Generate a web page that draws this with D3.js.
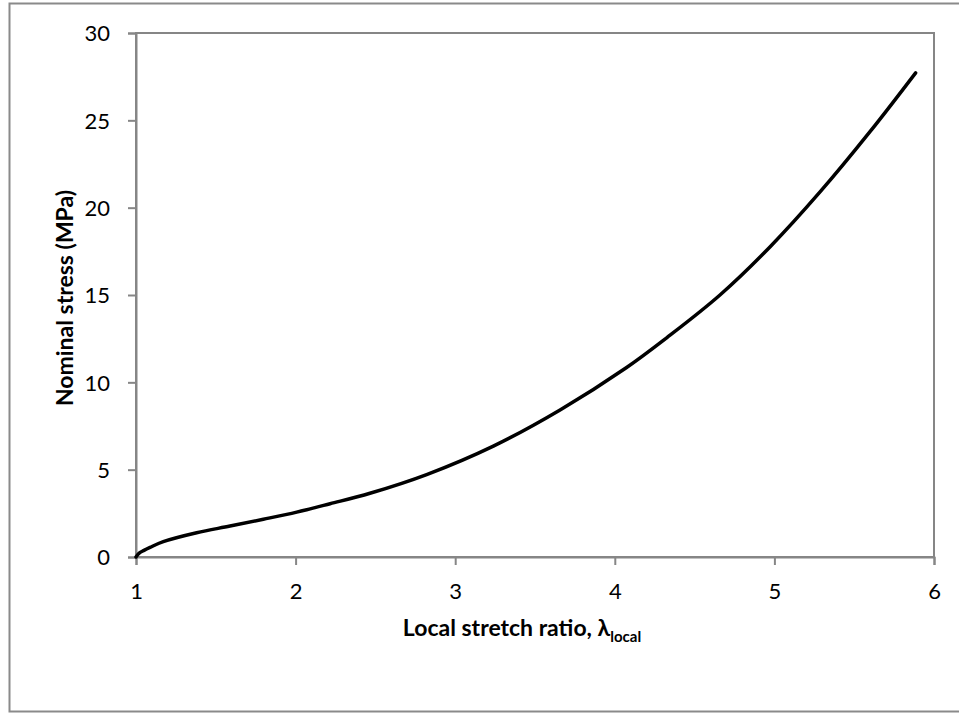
<!DOCTYPE html>
<html>
<head>
<meta charset="utf-8">
<script src="https://cdn.jsdelivr.net/npm/d3@7"></script>
<style>
  html, body { margin: 0; padding: 0; background: #fff; }
  svg { display: block; }
  text { font-family: Lato, "Open Sans", sans-serif; fill: #000; }
</style>
</head>
<body>
<svg id="chart" width="959" height="713"></svg>
<script>
// Data
const stretchRatio = [1.00, 1.02, 1.05, 1.088, 1.171, 1.38, 1.589, 1.798, 2.007, 2.216, 2.466, 2.821, 3.239, 3.657, 4.074, 4.325, 4.659, 4.972, 5.286, 5.599, 5.885];
const nominalStress = [0.00, 0.22, 0.38, 0.55, 0.88, 1.39, 1.77, 2.16, 2.57, 3.05, 3.65, 4.72, 6.35, 8.42, 10.85, 12.55, 15.00, 17.75, 20.90, 24.35, 27.72];
const xTicks = [1, 2, 3, 4, 5, 6];
const yTicks = [0, 5, 10, 15, 20, 25, 30];

(function () {
const svg = d3.select("#chart");
const axisColor = "#868686";

// outer chart border
svg.append("rect")
  .attr("x", 9.5).attr("y", 3.5)
  .attr("width", 960).attr("height", 708)
  .attr("fill", "none").attr("stroke", "#8a8a8a").attr("stroke-width", 2);

const mLeft = 136, mRight = 934, mTop = 33, mBottom = 557;
const x = d3.scaleLinear().domain([1, 6]).range([mLeft, mRight]);
const y = d3.scaleLinear().domain([0, 30]).range([mBottom, mTop]);

// plot area border
svg.append("rect")
  .attr("x", mLeft).attr("y", mTop)
  .attr("width", mRight - mLeft).attr("height", mBottom - mTop)
  .attr("fill", "none").attr("stroke", axisColor).attr("stroke-width", 2);

// x axis
const gx = svg.append("g").attr("transform", `translate(0,${mBottom})`)
  .call(d3.axisBottom(x).tickValues(xTicks).tickSize(8).tickPadding(18).tickFormat(d3.format("d")));
// y axis
const gy = svg.append("g").attr("transform", `translate(${mLeft},0)`)
  .call(d3.axisLeft(y).tickValues(yTicks).tickSize(8).tickPadding(18).tickFormat(d3.format("d")));

[gx, gy].forEach(g => {
  g.select(".domain").attr("stroke", axisColor).attr("stroke-width", 2);
  g.selectAll(".tick line").attr("stroke", axisColor).attr("stroke-width", 2);
  g.selectAll(".tick text").style("font-family", "Lato, 'Open Sans', sans-serif").style("font-size", "22px").attr("fill", "#000");
});
gy.selectAll(".tick text").attr("dy", "0.36em");

// curve
const pts = stretchRatio.map((v, i) => [v, nominalStress[i]]);
svg.append("path")
  .datum(pts)
  .attr("fill", "none")
  .attr("stroke", "#000")
  .attr("stroke-width", 3.5)
  .attr("stroke-linecap", "round")
  .attr("d", d3.line().x(d => x(d[0])).y(d => y(d[1])).curve(d3.curveCatmullRom.alpha(0.5)));

// x axis title
const xt = svg.append("text")
  .attr("x", 522).attr("y", 636)
  .attr("text-anchor", "middle")
  .style("font-size", "23px").style("font-weight", "bold");
xt.append("tspan").text("Local stretch ratio, λ");
xt.append("tspan").attr("dy", 6).style("font-size", "15px").text("local");

// y axis title
svg.append("text")
  .attr("transform", "translate(73,298) rotate(-90)")
  .attr("text-anchor", "middle")
  .style("font-size", "23px").style("font-weight", "bold")
  .text("Nominal stress (MPa)");
})();
</script>
</body>
</html>
